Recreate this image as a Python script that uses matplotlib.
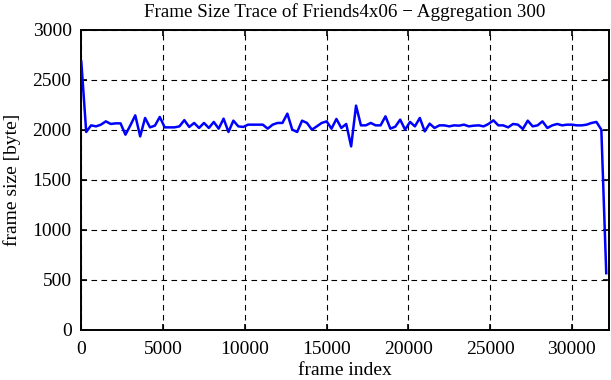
import numpy as np
import matplotlib
matplotlib.use("Agg")
import matplotlib.pyplot as plt

plt.rcParams['font.family'] = ['Liberation Serif', 'DejaVu Serif']

aggregation = 300
frame_size = [
    2680, 1977, 2043, 2033, 2050, 2083, 2057, 2063, 2063, 1950,
    2043, 2143, 1933, 2117, 2023, 2040, 2127, 2023, 2023, 2023,
    2033, 2095, 2027, 2067, 2017, 2067, 2017, 2077, 2010, 2110,
    1977, 2090, 2033, 2027, 2050, 2050, 2050, 2050, 2010, 2050,
    2067, 2067, 2160, 2000, 1977, 2090, 2067, 2000, 2033, 2067,
    2083, 2010, 2107, 2017, 2057, 1833, 2240, 2043, 2043, 2067,
    2043, 2043, 2133, 2010, 2030, 2100, 2000, 2077, 2033, 2117,
    1983, 2060, 2017, 2043, 2043, 2033, 2043, 2040, 2050, 2033,
    2040, 2043, 2033, 2057, 2093, 2043, 2043, 2023, 2057, 2050,
    2007, 2090, 2033, 2043, 2083, 2017, 2043, 2057, 2043, 2050,
    2050, 2043, 2043, 2050, 2067, 2077, 2000, 567,
]
frame_index = np.arange(len(frame_size)) * aggregation
x_max = 32250
x_ticks = [0, 5000, 10000, 15000, 20000, 25000, 30000]
y_ticks = [0, 500, 1000, 1500, 2000, 2500, 3000]

W, H = 611, 380
fig = plt.figure(figsize=(W / 100, H / 100), dpi=100)
ax = fig.add_axes([81.3 / W, 1 - 330 / H, (608.7 - 81.3) / W, (330 - 29.5) / H])

ax.plot(frame_index, frame_size, color='#0000ff', lw=1.8, zorder=3)

ax.set_xlim(0, x_max)
ax.set_ylim(0, 3000)
ax.set_xticks(x_ticks)
ax.set_yticks(y_ticks)
ax.grid(True, color='black', linestyle=(0, (5, 4)), linewidth=0.8)
ax.tick_params(direction='in', length=4.5, width=1.2, top=True, right=True,
               labelsize=14, colors='black')
ax.tick_params(axis='x', pad=8)
ax.tick_params(axis='y', pad=7)
for s in ax.spines.values():
    s.set_linewidth(1.4)
    s.set_color('black')

ax.set_xlabel('frame index', fontsize=14, labelpad=2.5)
ax.set_ylabel('frame size [byte]', fontsize=14, labelpad=8)
ax.set_title('Frame Size Trace of Friends4x06 \u2212 Aggregation 300', fontsize=13.7, pad=9)

fig.savefig('out.png', dpi=100)
